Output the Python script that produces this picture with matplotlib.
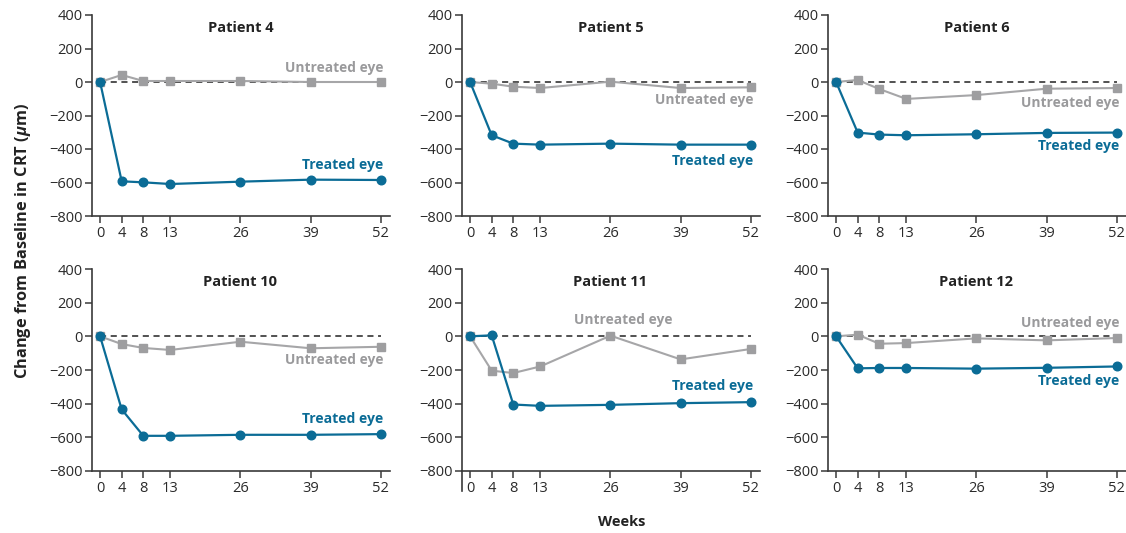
import matplotlib
matplotlib.use("Agg")
import matplotlib.pyplot as plt

plt.rcParams['font.family'] = ['Open Sans', 'DejaVu Sans']
plt.rcParams['mathtext.fontset'] = 'custom'
plt.rcParams['mathtext.it'] = 'Open Sans:italic:bold'

weeks = [0, 4, 8, 13, 26, 39, 52]
week_labels = ['0', '4', '8', '13', '26', '39', '52']
y_ticks = [400, 200, 0, -200, -400, -600, -800]

patients = ['Patient 4', 'Patient 5', 'Patient 6',
            'Patient 10', 'Patient 11', 'Patient 12']

treated_p4 = [0, -593, -599, -609, -595, -583, -585]
untreated_p4 = [0, 42, 6, 6, 6, 0, 0]
treated_p5 = [0, -318, -368, -374, -368, -374, -374]
untreated_p5 = [0, -10, -28, -36, 2, -36, -32]
treated_p6 = [0, -302, -314, -318, -312, -304, -302]
untreated_p6 = [0, 12, -42, -101, -78, -40, -36]
treated_p10 = [0, -434, -591, -591, -585, -585, -581]
untreated_p10 = [0, -46, -69, -81, -32, -71, -62]
treated_p11 = [0, 6, -405, -413, -407, -397, -391]
untreated_p11 = [0, -204, -218, -179, 4, -137, -75]
treated_p12 = [0, -190, -188, -188, -192, -187, -179]
untreated_p12 = [0, 10, -44, -40, -12, -24, -10]

treated = [treated_p4, treated_p5, treated_p6, treated_p10, treated_p11, treated_p12]
untreated = [untreated_p4, untreated_p5, untreated_p6, untreated_p10, untreated_p11, untreated_p12]

# label anchors: (x, y, horizontal alignment)
untreated_label_pos = [(52.5, 84, 'right'), (52.5, -105, 'right'), (52.5, -125, 'right'),
                       (52.5, -143, 'right'), (28.3, 99, 'center'), (52.5, 79, 'right')]
treated_label_pos = [(52.5, -494, 'right'), (52.5, -474, 'right'), (52.5, -384, 'right'),
                     (52.5, -492, 'right'), (52.5, -298, 'right'), (52.5, -268, 'right')]

BLUE = '#0b6c96'
GREY_LINE = '#a6a6a8'
GREY_MARK = '#9e9ea0'
GREY_TEXT = '#9a9a9c'
AXIS = '#3a3a3a'

W, H = 1126, 533
fig = plt.figure(figsize=(W / 100, H / 100), dpi=100)

col_left = [92, 462, 828]
row_top = [15, 269]
row_bot = [216, 471]
ax_w = 298

for i, name in enumerate(patients):
    r, c = divmod(i, 3)
    left = col_left[c] / W
    bottom = 1 - row_bot[r] / H
    height = (row_bot[r] - row_top[r]) / H
    ax = fig.add_axes([left, bottom, ax_w / W, height])

    ax.plot([0, 52], [0, 0], ls=(0, (4, 3)), color='#222222', lw=1.1, zorder=1)
    ax.plot(weeks, untreated[i], color=GREY_LINE, lw=1.5, marker='s', ms=6,
            mfc=GREY_MARK, mec=GREY_MARK, zorder=2, clip_on=False)
    ax.plot(weeks, treated[i], color=BLUE, lw=1.6, marker='o', ms=6.2,
            mfc=BLUE, mec=BLUE, zorder=3, clip_on=False)

    ax.set_xlim(-1.5, 53.7)
    ax.set_ylim(-800, 400)
    ax.set_xticks(weeks)
    ax.set_xticklabels(week_labels)
    ax.set_yticks(y_ticks)
    ax.set_yticklabels([str(v).replace('-', '\u2212') for v in y_ticks])

    for s in ['top', 'right']:
        ax.spines[s].set_visible(False)
    for s in ['left', 'bottom']:
        ax.spines[s].set_color(AXIS)
        ax.spines[s].set_linewidth(1.2)
    ax.tick_params(axis='both', direction='out', length=5, width=1.1, color=AXIS,
                   labelsize=10.5, labelcolor='#2a2a2a', pad=2)

    ax.text(26, 322, name, ha='center', va='center', fontsize=10.5,
            fontweight='bold', color='#222222')
    ux, uy, uha = untreated_label_pos[i]
    ax.text(ux, uy, 'Untreated eye', ha=uha, va='center', fontsize=9.9,
            fontweight='bold', color=GREY_TEXT)
    tx, ty, tha = treated_label_pos[i]
    ax.text(tx, ty, 'Treated eye', ha=tha, va='center', fontsize=10.1,
            fontweight='bold', color=BLUE)

    if name == 'Patient 11':
        ax.plot([0, 0], [0, -0.1], transform=ax.transAxes, color=AXIS,
                lw=1.2, clip_on=False)

fig.text(23 / W, 1 - 241 / H, 'Change from Baseline in CRT ($\\mu$m)', rotation=90,
         ha='center', va='center', fontsize=11.8, fontweight='bold', color='#222222')
fig.text(622 / W, 1 - 522 / H, 'Weeks', ha='center', va='center', fontsize=10.5,
         fontweight='bold', color='#222222')

fig.savefig('out.png', dpi=100, facecolor='white')
